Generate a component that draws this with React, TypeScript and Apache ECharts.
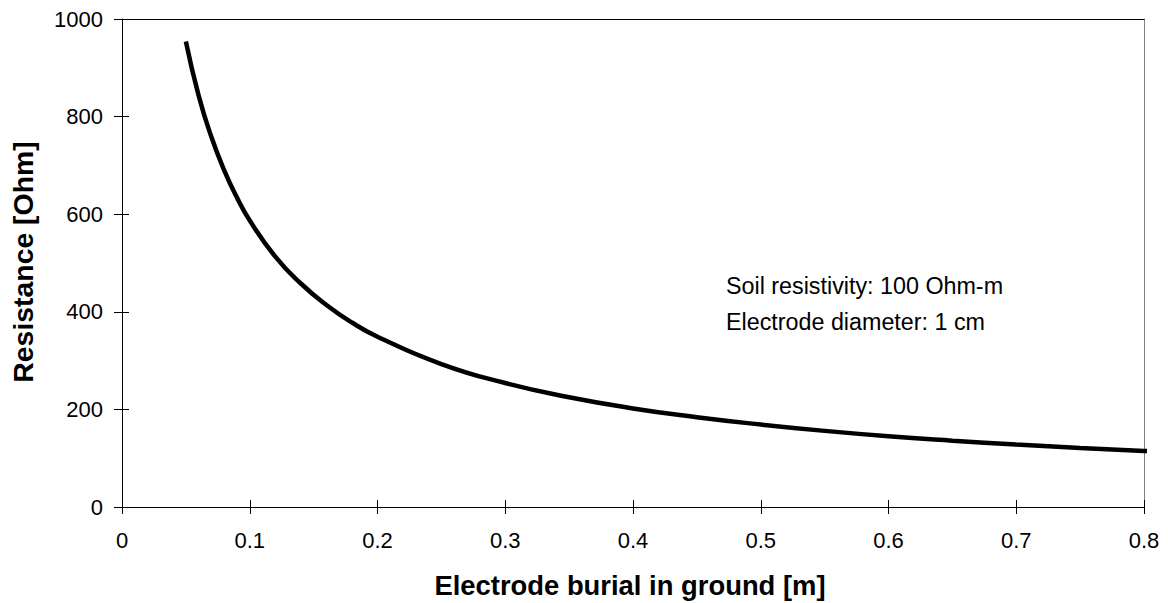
import React, { useEffect, useRef } from "react";
import * as echarts from "echarts";

const burialDepth = [0.05, 0.06, 0.07, 0.08, 0.09, 0.1, 0.12, 0.14, 0.16, 0.18, 0.2, 0.25, 0.3, 0.35, 0.4, 0.45, 0.5, 0.55, 0.6, 0.65, 0.7, 0.75, 0.8, 0.806];
const resistance = [954, 843, 758, 690, 634, 587, 513, 458, 414, 378, 349, 293, 254, 225, 202, 184, 169, 156, 145, 136, 128, 121, 115, 114];
const xTicks = { min: 0, max: 0.8, interval: 0.1 };
const yTicks = { min: 0, max: 1000, interval: 200 };
const xTitle = "Electrode burial in ground [m]";
const yTitle = "Resistance [Ohm]";
const noteLines = ["Soil resistivity: 100 Ohm-m", "Electrode diameter: 1 cm"];

const FONT = "'Liberation Sans', Arial, sans-serif";

export default function App() {
  const ref = useRef<HTMLDivElement>(null);
  useEffect(() => {
    if (!ref.current) return;
    const chart = echarts.init(ref.current, null, { renderer: "svg" });
    const hidden = { show: false };
    chart.setOption({
      animation: false,
      backgroundColor: "#fff",
      grid: { left: 122, right: 24, top: 19, bottom: 96, containLabel: false },
      xAxis: [
        {
          type: "value", position: "bottom", ...xTicks,
          axisLine: { show: true, onZero: false, lineStyle: { color: "#000", width: 1 } },
          axisTick: { show: true, inside: false, length: 7, lineStyle: { color: "#000" } },
          axisLabel: { show: true, margin: 22, fontSize: 22, color: "#000", fontFamily: FONT,
            formatter: (v: number) => String(Math.round(v * 10) / 10) },
          splitLine: hidden,
        },
        {
          type: "value", position: "bottom", ...xTicks,
          axisLine: { show: false, onZero: false },
          axisTick: { show: true, inside: true, length: 7, lineStyle: { color: "#000" } },
          axisLabel: hidden, splitLine: hidden,
        },
        {
          type: "value", position: "top", ...xTicks,
          axisLine: { show: true, onZero: false, lineStyle: { color: "#000", width: 1 } },
          axisTick: hidden, axisLabel: hidden, splitLine: hidden,
        },
      ],
      yAxis: [
        {
          type: "value", position: "left", ...yTicks,
          axisLine: { show: true, onZero: false, lineStyle: { color: "#000", width: 1 } },
          axisTick: { show: true, inside: false, length: 8, lineStyle: { color: "#000" } },
          axisLabel: { show: true, margin: 19, fontSize: 22, color: "#000", fontFamily: FONT,
            formatter: (v: number) => String(v) },
          splitLine: hidden,
        },
        {
          type: "value", position: "left", ...yTicks,
          axisLine: { show: false, onZero: false },
          axisTick: { show: true, inside: true, length: 7, lineStyle: { color: "#000" } },
          axisLabel: hidden, splitLine: hidden,
        },
        {
          type: "value", position: "right", ...yTicks,
          axisLine: { show: true, onZero: false, lineStyle: { color: "#808080", width: 1 } },
          axisTick: hidden, axisLabel: hidden, splitLine: hidden,
        },
      ],
      series: [
        {
          type: "line",
          xAxisIndex: 0,
          yAxisIndex: 0,
          data: burialDepth.map((x, i) => [x, resistance[i]]),
          smooth: true,
          showSymbol: false,
          clip: false,
          lineStyle: { color: "#000", width: 4.5 },
        },
      ],
      graphic: [
        {
          type: "text", x: 630, y: 585,
          style: { text: xTitle, fontSize: 27.4, fontWeight: "bold", fontFamily: FONT, fill: "#000",
            textAlign: "center", textVerticalAlign: "middle" },
        },
        {
          type: "text", x: 23, y: 262, rotation: Math.PI / 2,
          style: { text: yTitle, fontSize: 28.4, fontWeight: "bold", fontFamily: FONT, fill: "#000",
            textAlign: "center", textVerticalAlign: "middle" },
        },
        {
          type: "text", x: 726, y: 286,
          style: { text: noteLines[0], fontSize: 23.3, fontFamily: FONT, fill: "#000",
            textAlign: "left", textVerticalAlign: "middle" },
        },
        {
          type: "text", x: 726, y: 322,
          style: { text: noteLines[1], fontSize: 23.3, fontFamily: FONT, fill: "#000",
            textAlign: "left", textVerticalAlign: "middle" },
        },
      ],
    });
    return () => chart.dispose();
  }, []);
  return <div ref={ref} style={{ position: "fixed", left: 0, top: 0, width: 1168, height: 603 }} />;
}
